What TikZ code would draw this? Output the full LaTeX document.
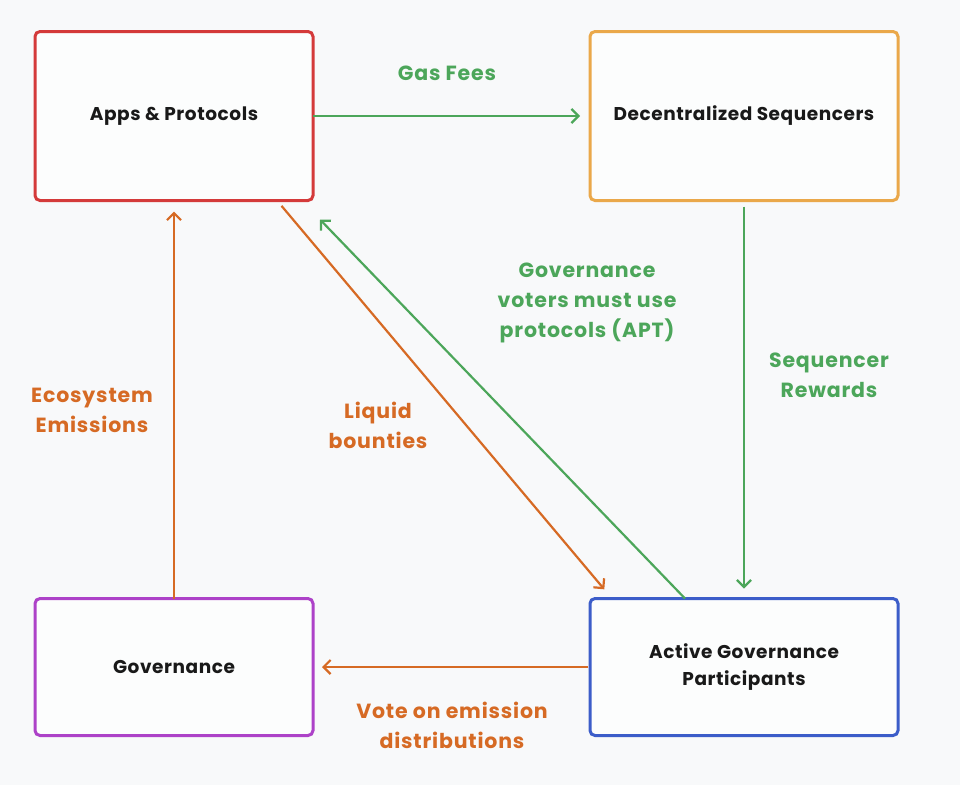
\documentclass[tikz,border=0pt]{standalone}
\usepackage{fontspec}
\setmainfont{Poppins}
\newfontfamily\boxfont[LetterSpace=3]{Poppins}
\newfontfamily\labelfont[LetterSpace=4]{Poppins}
\usepackage{tikz}
\usetikzlibrary{arrows.meta}
\definecolor{bgcol}{RGB}{248,249,250}
\definecolor{redbox}{RGB}{212,58,58}
\definecolor{orangebox}{RGB}{234,168,74}
\definecolor{purplebox}{RGB}{173,66,200}
\definecolor{bluebox}{RGB}{60,93,201}
\definecolor{greenflow}{RGB}{76,166,90}
\definecolor{orangeflow}{RGB}{214,106,36}
\tikzset{
  box/.style={draw, line width=3pt, rounded corners=5pt, fill=white!60!bgcol, outer sep=0pt,
    align=center, font=\boxfont\fontsize{18.5}{27}\selectfont\bfseries, text=black!90},
  flow/.style={line width=2.2pt, -{Straight Barb[length=7pt,width=14pt,line width=2.2pt]}},
  flowlabel/.style={align=center, font=\labelfont\fontsize{20.5}{30}\selectfont\bfseries, inner sep=0pt}
}

\begin{document}
\begin{tikzpicture}[x=1pt,y=1pt,yscale=-1,xscale=1]
\useasboundingbox [fill=bgcol] (0,0) rectangle (960,785);

%Shape: boxes
\node [box, draw=redbox, minimum width=278pt, minimum height=169pt] (apps) at (174,116) {Apps \& Protocols};
\node [box, draw=orangebox, minimum width=308pt, minimum height=169pt] (seq) at (744,116) {Decentralized Sequencers};
\node [box, draw=purplebox, minimum width=278pt, minimum height=137pt] (gov) at (174,667) {Governance};
\node [box, draw=bluebox, minimum width=308pt, minimum height=137pt] (act) at (744,667) {Active Governance\\Participants};

%Straight Lines: green flows
\draw [flow, greenflow, shorten >=10pt] (apps.east) -- (seq.west);
\draw [flow, greenflow, shorten <=6pt, shorten >=10pt] (seq.south) -- (act.north);
\draw [flow, greenflow] ([xshift=-59pt]act.north) -- ([xshift=7pt,yshift=19pt]apps.south east);

%Straight Lines: orange flows
\draw [flow, orangeflow, shorten <=7pt, shorten >=12pt] ([xshift=103pt]apps.south) -- ([xshift=22pt]act.north west);
\draw [flow, orangeflow, shorten <=2pt, shorten >=9pt] (act.west) -- (gov.east);
\draw [flow, orangeflow, shorten >=11pt] (gov.north) -- (apps.south);

% Text Node
\node [flowlabel, text=greenflow] (gaslbl) at (447,73) {Gas Fees};
% Text Node
\node [flowlabel, text=greenflow] (seqlbl) at (829,375) {Sequencer\\Rewards};
% Text Node
\node [flowlabel, text=greenflow] (votlbl) at (587,303) {Governance\\voters must use\\protocols (APT)};
% Text Node
\node [flowlabel, text=orangeflow] (bountylbl) at (378,425) {Liquid\\bounties};
% Text Node
\node [flowlabel, text=orangeflow] (emlbl) at (92,410) {Ecosystem\\Emissions};
% Text Node
\node [flowlabel, text=orangeflow] (distlbl) at (452,725) {Vote on emission\\distributions};

\end{tikzpicture}
\end{document}
